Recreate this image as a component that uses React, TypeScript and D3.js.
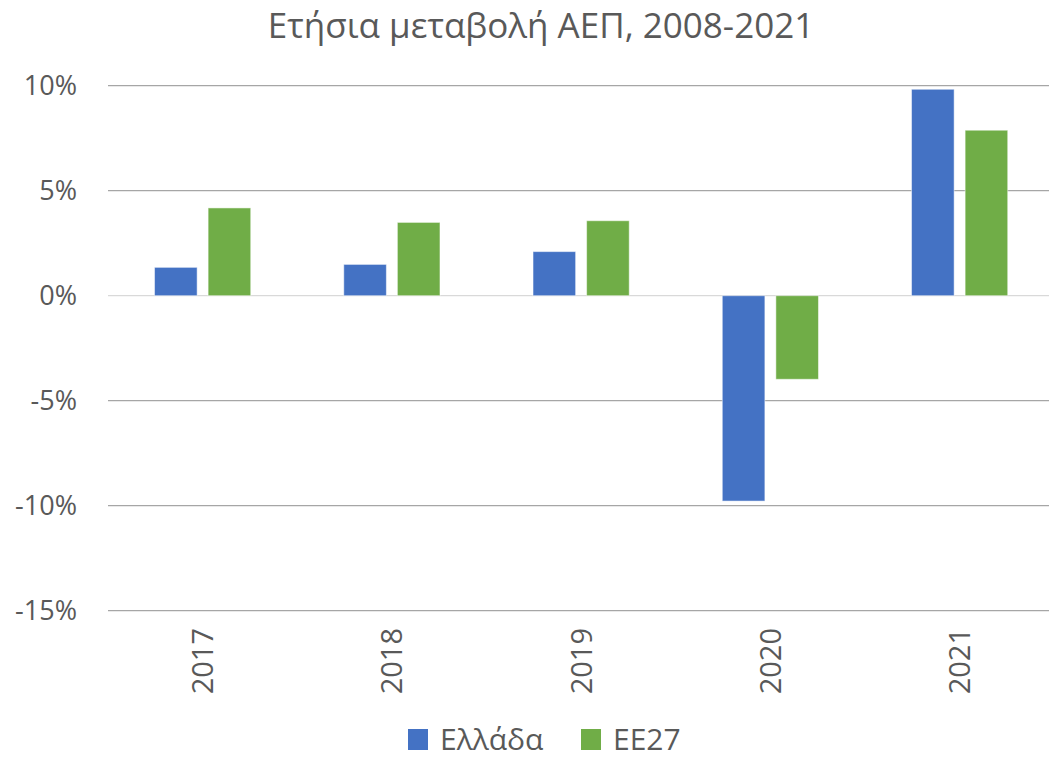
import * as d3 from "d3";
import { useEffect, useRef } from "react";

const years = ["2017", "2018", "2019", "2020", "2021"];
const seriesNames = ["Ελλάδα", "ΕΕ27"];
const greece = [1.35, 1.49, 2.1, -9.78, 9.83];
const eu27 = [4.18, 3.49, 3.57, -3.98, 7.88];
const yTicks = [10, 5, 0, -5, -10, -15];
const colors = ["#4472C4", "#70AD47"];

const W = 1049;
const H = 758;
const FONT = "'Open Sans', sans-serif";
const TEXT = "#595959";

export default function App() {
  const ref = useRef<SVGSVGElement>(null);

  useEffect(() => {
    if (!ref.current) return;
    const svg = d3.select(ref.current);
    svg.selectAll("*").remove();

    const x0 = d3.scaleBand().domain(years).range([108, 1054.25]).padding(0);
    const x1 = d3.scaleBand().domain(seriesNames).range([0, x0.bandwidth()])
      .paddingInner(0.205).paddingOuter(0.868);
    const y = d3.scaleLinear().domain([-15, 10]).range([610.7, 85.7]);

    // title
    svg.append("text")
      .attr("x", 541).attr("y", 38)
      .attr("text-anchor", "middle")
      .attr("font-family", FONT).attr("font-size", 35)
      .attr("fill", TEXT)
      .text("Ετήσια μεταβολή ΑΕΠ, 2008-2021");

    // gridlines
    svg.append("g").selectAll("line")
      .data(yTicks)
      .enter().append("line")
      .attr("x1", 108).attr("x2", W)
      .attr("y1", (d) => y(d)).attr("y2", (d) => y(d))
      .attr("stroke", (d) => d === 0 ? "#d9d9d9" : "#a6a6a6")
      .attr("stroke-width", 1.3);

    // y labels
    svg.append("g").selectAll("text")
      .data(yTicks)
      .enter().append("text")
      .attr("x", 77).attr("y", (d) => y(d))
      .attr("dy", "0.36em")
      .attr("text-anchor", "end")
      .attr("font-family", FONT).attr("font-size", 27)
      .attr("fill", TEXT)
      .text((d) => d + "%");

    // bars
    const rows = years.map((yr, i) => ({ yr, vals: [greece[i], eu27[i]] }));
    const groups = svg.append("g").selectAll("g")
      .data(rows)
      .enter().append("g")
      .attr("transform", (d) => `translate(${x0(d.yr)},0)`);
    groups.selectAll("rect")
      .data((d) => d.vals.map((v, k) => ({ v, k })))
      .enter().append("rect")
      .attr("x", (d) => x1(seriesNames[d.k])!)
      .attr("width", x1.bandwidth())
      .attr("y", (d) => y(Math.max(0, d.v)))
      .attr("height", (d) => Math.abs(y(d.v) - y(0)))
      .attr("fill", (d) => colors[d.k])
      .attr("stroke", "#ffffff")
      .attr("stroke-opacity", 0.5)
      .attr("stroke-width", 1);

    // x labels
    svg.append("g").selectAll("text")
      .data(years)
      .enter().append("text")
      .attr("transform", (d) => `translate(${x0(d)! + x0.bandwidth() / 2},628) rotate(-90)`)
      .attr("dy", "0.36em")
      .attr("text-anchor", "end")
      .attr("font-family", FONT).attr("font-size", 29)
      .attr("fill", TEXT)
      .text((d) => d);

    // legend
    const legendX = [408, 581];
    const lg = svg.append("g").selectAll("g")
      .data(seriesNames)
      .enter().append("g")
      .attr("transform", (_d, i) => `translate(${legendX[i]},729)`);
    lg.append("rect").attr("width", 20).attr("height", 21)
      .attr("fill", (_d, i) => colors[i]);
    lg.append("text")
      .attr("x", 32).attr("y", 21)
      .attr("font-family", FONT).attr("font-size", 30)
      .attr("fill", TEXT)
      .text((d) => d);
  }, []);

  return (
    <svg ref={ref} width={W} height={H} style={{ position: "absolute", left: 0, top: 0, background: "#fff" }} />
  );
}
